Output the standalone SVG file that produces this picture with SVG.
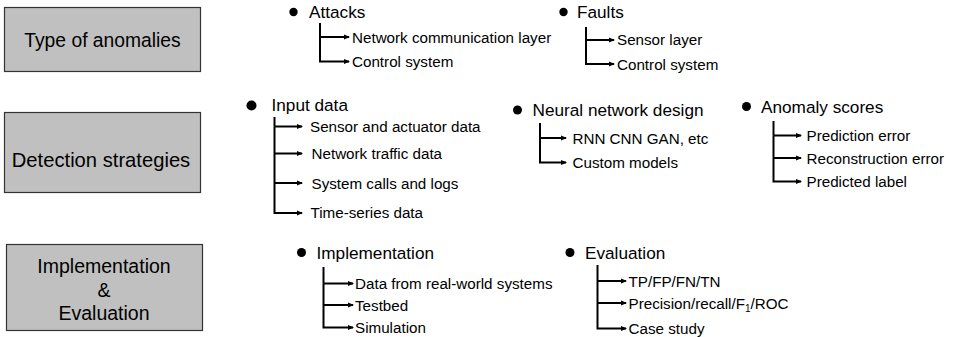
<svg xmlns="http://www.w3.org/2000/svg" width="953" height="337" viewBox="0 0 953 337">
<style>
text{font-family:"Liberation Sans",Arial,sans-serif;fill:#000}
.box{fill:#c0c0c0;stroke:#333;stroke-width:1.2}
.bt{text-anchor:middle}
.h{font-size:17.2px}
.i{font-size:15.2px}
.ln{fill:none;stroke:#000;stroke-width:2}
.ar{marker-end:url(#ah)}
</style>
<defs>
<marker id="ah" markerUnits="userSpaceOnUse" markerWidth="7" markerHeight="6" refX="5.5" refY="3" orient="auto"><path d="M0,0.3 L6.5,3 L0,5.7 z" fill="#000"/></marker>
</defs>
<rect width="953" height="337" fill="#fff"/>

<g id="box-type"><rect class="box" x="4.5" y="7.5" width="196" height="64"/><text class="bt" x="102.5" y="46.5" font-size="19.3">Type of anomalies</text></g>
<g id="box-detection"><rect class="box" x="4.5" y="112.5" width="196" height="80"/><text class="bt" x="101" y="167" font-size="20.2">Detection strategies</text></g>
<g id="box-impl"><rect class="box" x="6.5" y="244.5" width="196" height="86"/><text class="bt" font-size="19.5"><tspan x="104" y="273">Implementation</tspan><tspan x="104" y="296.5">&amp;</tspan><tspan x="104" y="320">Evaluation</tspan></text></g>

<g id="attacks"><circle cx="293.5" cy="12" r="4.2"/><text class="h" x="309" y="18">Attacks</text><text class="i" x="352" y="42.5">Network communication layer</text><text class="i" x="352" y="66.5">Control system</text></g>
<g id="faults"><circle cx="563.5" cy="12" r="4.2"/><text class="h" x="577" y="18">Faults</text><text class="i" x="617" y="45">Sensor layer</text><text class="i" x="617" y="69.5">Control system</text></g>

<g id="input"><circle cx="251.5" cy="105.5" r="5"/><text class="h" x="271.5" y="111">Input data</text><text class="i" x="310" y="132">Sensor and actuator data</text><text class="i" x="311.5" y="159">Network traffic data</text><text class="i" x="311.5" y="188.5">System calls and logs</text><text class="i" x="310.5" y="218">Time-series data</text></g>
<g id="neural"><circle cx="517.5" cy="110" r="4.5"/><text class="h" x="532.5" y="116">Neural network design</text><text class="i" x="572.5" y="143.5">RNN CNN GAN, etc</text><text class="i" x="572.5" y="168">Custom models</text></g>
<g id="scores"><circle cx="746.5" cy="106.5" r="4.5"/><text class="h" x="761" y="112.5">Anomaly scores</text><text class="i" x="806.5" y="141">Prediction error</text><text class="i" x="806.5" y="163.5">Reconstruction error</text><text class="i" x="806.5" y="187">Predicted label</text></g>

<g id="implementation"><circle cx="301.5" cy="252.5" r="4.5"/><text class="h" x="316.5" y="258.5">Implementation</text><text class="i" x="355" y="289">Data from real-world systems</text><text class="i" x="355" y="310.5">Testbed</text><text class="i" x="355" y="333">Simulation</text></g>
<g id="evaluation"><circle cx="570" cy="252.5" r="4.5"/><text class="h" x="585" y="258.5">Evaluation</text><text class="i" x="628.5" y="286.5">TP/FP/FN/TN</text><text class="i" x="628.5" y="308.5">Precision/recall/F<tspan font-size="10" dy="3">1</tspan><tspan dy="-3">/ROC</tspan></text><text class="i" x="628.5" y="334">Case study</text></g>

<g id="connectors">
<path class="ln" d="M320,23 V37"/><path class="ln ar" d="M320,37 H349"/><path class="ln ar" d="M320,37 V61.5 H349"/>
<path class="ln" d="M586,27 V40"/><path class="ln ar" d="M586,40 H614"/><path class="ln ar" d="M586,40 V64 H614"/>
<path class="ln" d="M274.5,117 V126.5"/><path class="ln ar" d="M274.5,126.5 H302"/><path class="ln ar" d="M274.5,153.5 H302"/><path class="ln ar" d="M274.5,183 H302"/><path class="ln ar" d="M274.5,126.5 V213 H302"/>
<path class="ln" d="M540,123 V138"/><path class="ln ar" d="M540,138 H566"/><path class="ln ar" d="M540,138 V162.5 H566"/>
<path class="ln" d="M773.5,121 V135.5"/><path class="ln ar" d="M773.5,135.5 H801"/><path class="ln ar" d="M773.5,158 H801"/><path class="ln ar" d="M773.5,135.5 V181.5 H801"/>
<path class="ln" d="M323.5,267 V283.5"/><path class="ln ar" d="M323.5,283.5 H353"/><path class="ln ar" d="M323.5,305 H353"/><path class="ln ar" d="M323.5,283.5 V327.5 H353"/>
<path class="ln" d="M597.5,265 V281"/><path class="ln ar" d="M597.5,281 H626"/><path class="ln ar" d="M597.5,303 H626"/><path class="ln ar" d="M597.5,281 V328.5 H626"/>
</g>
</svg>
